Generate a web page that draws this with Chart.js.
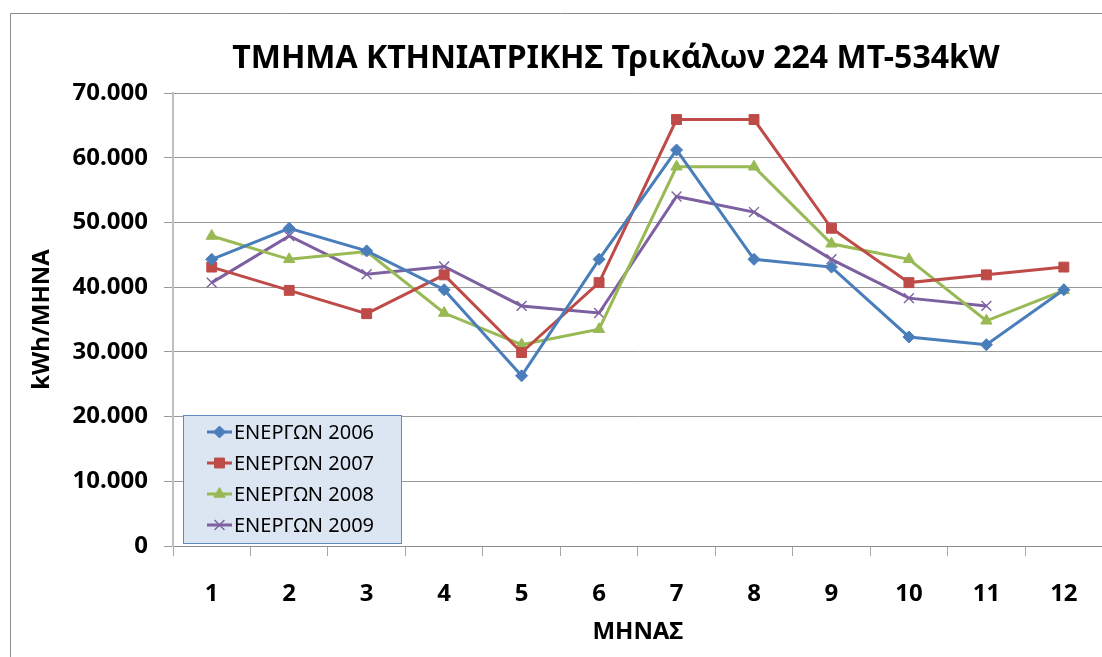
<!DOCTYPE html>
<html>
<head>
<meta charset="utf-8">
<script src="https://cdn.jsdelivr.net/npm/chart.js@4/dist/chart.umd.min.js"></script>
<style>
  html, body { margin: 0; padding: 0; background: #ffffff; overflow: hidden; }
  #wrap { width: 1102px; height: 657px; position: relative; overflow: hidden; }
  #c { display: block; }
</style>
</head>
<body>
<div id="wrap"><canvas id="c" width="1111" height="657"></canvas></div>
<script>
// ---- data ----
const months = ['1','2','3','4','5','6','7','8','9','10','11','12'];
const seriesNames = ['ΕΝΕΡΓΩΝ 2006','ΕΝΕΡΓΩΝ 2007','ΕΝΕΡΓΩΝ 2008','ΕΝΕΡΓΩΝ 2009'];
const energy2006 = [44300, 49100, 45600, 39600, 26300, 44300, 61200, 44300, 43100, 32300, 31100, 39600];
const energy2007 = [43100, 39500, 35900, 41900, 29900, 40700, 65900, 65900, 49100, 40700, 41900, 43100];
const energy2008 = [47900, 44300, 45500, 36000, 31100, 33500, 58600, 58600, 46700, 44300, 34800, 39500];
const energy2009 = [40700, 47900, 42000, 43200, 37100, 36000, 54000, 51600, 44300, 38300, 37100, null];
const yTickValues = [0, 10000, 20000, 30000, 40000, 50000, 60000, 70000];
const chartTitle = 'ΤΜΗΜΑ ΚΤΗΝΙΑΤΡΙΚΗΣ Τρικάλων 224 ΜΤ-534kW';
const xTitle = 'ΜΗΝΑΣ';
const yTitle = 'kWh/ΜΗΝΑ';

const FONT = "'Noto Sans', 'DejaVu Sans', sans-serif";

function ds(label, data, color, style, radius) {
  return {
    label, data,
    borderColor: color, backgroundColor: color,
    pointBackgroundColor: color, pointBorderColor: color,
    borderWidth: 3, pointStyle: style, pointRadius: radius, pointHoverRadius: radius,
    pointBorderWidth: style === 'crossRot' ? 1.4 : 1,
    tension: 0, spanGaps: false
  };
}

const frameAndTitle = {
  id: 'frameAndTitle',
  beforeDraw(chart) {
    const ctx = chart.ctx;
    ctx.save();
    ctx.fillStyle = '#ffffff';
    ctx.fillRect(0, 0, chart.width, chart.height);
    ctx.strokeStyle = '#8c8c8c';
    ctx.lineWidth = 1;
    ctx.beginPath();
    ctx.moveTo(10.5, chart.height);
    ctx.lineTo(10.5, 13.5);
    ctx.lineTo(chart.width, 13.5);
    ctx.stroke();
    ctx.fillStyle = '#000000';
    ctx.font = "bold 32px " + FONT;
    ctx.textAlign = 'center';
    ctx.textBaseline = 'middle';
    ctx.fillText(chartTitle, 616, 59);
    ctx.restore();
  }
};

const boxLegend = {
  id: 'boxLegend',
  afterDraw(chart) {
    const ctx = chart.ctx;
    ctx.save();
    const x0 = 183, y0 = 415, w = 218, h = 128;
    ctx.fillStyle = '#dce6f2';
    ctx.fillRect(x0, y0, w, h);
    ctx.strokeStyle = '#5f8ac4';
    ctx.lineWidth = 1;
    ctx.strokeRect(x0 + 0.5, y0 + 0.5, w, h);
    chart.data.datasets.forEach((d, i) => {
      const cy = 432 + i * 31;
      ctx.strokeStyle = d.borderColor;
      ctx.lineWidth = 3;
      ctx.beginPath();
      ctx.moveTo(207, cy);
      ctx.lineTo(232, cy);
      ctx.stroke();
      const opts = {
        pointStyle: d.pointStyle, radius: d.pointRadius, rotation: 0,
        borderWidth: d.pointBorderWidth
      };
      ctx.fillStyle = d.backgroundColor;
      ctx.strokeStyle = d.borderColor;
      ctx.lineWidth = d.pointBorderWidth;
      if (Chart.helpers && Chart.helpers.drawPoint) {
        Chart.helpers.drawPoint(ctx, opts, 219.5, cy);
      }
      ctx.fillStyle = '#000000';
      ctx.font = "20px " + FONT;
      ctx.textAlign = 'left';
      ctx.textBaseline = 'middle';
      ctx.fillText(d.label, 234, cy + 1);
    });
    ctx.restore();
  }
};

new Chart(document.getElementById('c'), {
  type: 'line',
  data: {
    labels: months,
    datasets: [
      ds(seriesNames[0], energy2006, '#4a7ebb', 'rectRot', 6),
      ds(seriesNames[1], energy2007, '#be4b48', 'rect', 7),
      ds(seriesNames[2], energy2008, '#98b954', 'triangle', 6.5),
      ds(seriesNames[3], energy2009, '#7d60a0', 'crossRot', 7)
    ]
  },
  options: {
    responsive: false,
    animation: false,
    devicePixelRatio: 1,
    layout: { padding: { top: 93, left: 10, right: 0, bottom: 0 } },
    plugins: {
      legend: { display: false },
      title: { display: false },
      tooltip: { enabled: false }
    },
    scales: {
      x: {
        type: 'category',
        offset: true,
        afterFit(scale) { scale.height = 111; scale.paddingLeft = 0; scale.paddingRight = 0; },
        grid: { offset: true, drawOnChartArea: false, drawTicks: true, tickLength: 10, color: '#a6a6a6' },
        border: { color: '#8c8c8c', width: 1 },
        ticks: { color: '#000', font: { family: FONT, size: 24, weight: 'bold' }, padding: 24, maxRotation: 0 },
        title: { display: true, text: xTitle, color: '#000', font: { family: FONT, size: 24, weight: 'bold' }, padding: { top: 0, bottom: 10 } }
      },
      y: {
        min: 0, max: 70000,
        afterFit(scale) { scale.width = 163; },
        afterBuildTicks(scale) { scale.ticks = yTickValues.map(v => ({ value: v })); },
        grid: { color: '#999999', lineWidth: 1, tickLength: 9 },
        border: { color: '#bfbfbf', width: 2 },
        ticks: {
          color: '#000', font: { family: FONT, size: 24, weight: 'bold' }, padding: 16,
          callback(v) { return v === 0 ? '0' : (v / 1000) + '.000'; }
        },
        title: { display: true, text: yTitle, color: '#000', font: { family: FONT, size: 24, weight: 'bold' }, padding: { top: 18, bottom: 0 } }
      }
    }
  },
  plugins: [frameAndTitle, boxLegend]
});
</script>
</body>
</html>
